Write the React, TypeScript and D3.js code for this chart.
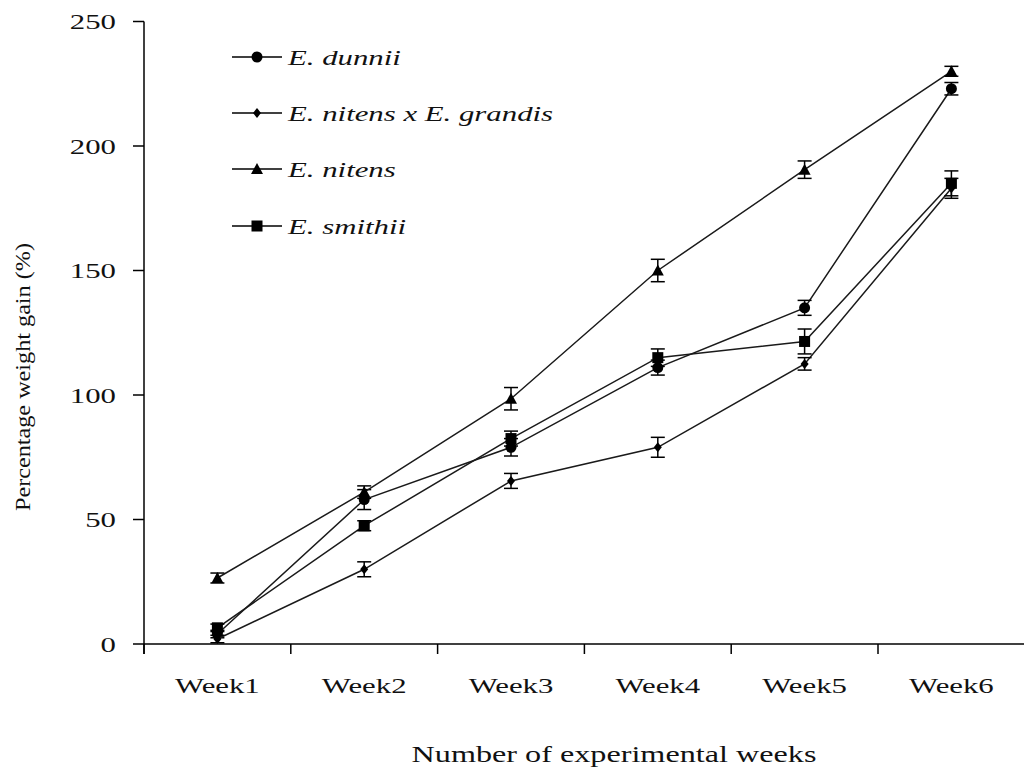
import React from "react";
import * as d3 from "d3";

// Weekly percentage weight gain for four Eucalyptus feeding treatments
const weeks = ["Week1", "Week2", "Week3", "Week4", "Week5", "Week6"];
const yTicks = [0, 50, 100, 150, 200, 250];

const dunnii = [4, 58, 79, 111, 135, 223];
const dunniiErr = [1.5, 4, 3.5, 3, 3, 2.5];
const hybrid = [2, 30, 65.5, 79, 112.5, 183];
const hybridErr = [1.5, 3, 3, 4, 2.5, 4];
const nitens = [26.5, 61, 98.5, 150, 190.5, 230];
const nitensErr = [2, 2.5, 4.5, 4.5, 3.5, 2];
const smithii = [6.5, 47.5, 82.5, 115, 121.5, 185];
const smithiiErr = [1.5, 2, 3, 3.5, 5, 5];

type Shape = "circle" | "diamond" | "triangle" | "square";
const seriesList: { name: string; values: number[]; errors: number[]; shape: Shape }[] = [
  { name: "E. dunnii", values: dunnii, errors: dunniiErr, shape: "circle" },
  { name: "E. nitens x E. grandis", values: hybrid, errors: hybridErr, shape: "diamond" },
  { name: "E. nitens", values: nitens, errors: nitensErr, shape: "triangle" },
  { name: "E. smithii", values: smithii, errors: smithiiErr, shape: "square" },
];

const W = 1024;
const H = 772;
const FONT = "'Liberation Serif', 'Times New Roman', serif";
const SX = 1.4; // wide type

const x = d3.scaleBand<string>().domain(weeks).range([144, 144 + 6 * 146.8]);
const y = d3.scaleLinear().domain([0, 250]).range([644, 21.5]);

function Marker({ shape, cx, cy }: { shape: Shape; cx: number; cy: number }) {
  if (shape === "circle") return <circle cx={cx} cy={cy} r={5.5} fill="#000" />;
  if (shape === "square")
    return <rect x={cx - 5.5} y={cy - 5.5} width={11} height={11} fill="#000" />;
  if (shape === "triangle")
    return <path d={`M${cx},${cy - 6} L${cx + 6},${cy + 5} L${cx - 6},${cy + 5} Z`} fill="#000" />;
  return (
    <path d={`M${cx},${cy - 5} L${cx + 4},${cy} L${cx},${cy + 5} L${cx - 4},${cy} Z`} fill="#000" />
  );
}

function WideText({
  x0,
  y0,
  anchor,
  italic,
  size,
  children,
}: {
  x0: number;
  y0: number;
  anchor: "start" | "middle" | "end";
  italic?: boolean;
  size: number;
  children: React.ReactNode;
}) {
  return (
    <g transform={`translate(${x0},${y0}) scale(${SX},1)`}>
      <text
        x={0}
        y={0}
        textAnchor={anchor}
        fontFamily={FONT}
        fontSize={size}
        fontStyle={italic ? "italic" : "normal"}
        fill="#111"
      >
        {children}
      </text>
    </g>
  );
}

export default function App() {
  const line = d3
    .line<number>()
    .x((_, i) => (x(weeks[i]) as number) + x.bandwidth() / 2)
    .y((d) => y(d));

  const [x0, x1] = x.range();
  const boundaries = d3.range(weeks.length + 1).map((i) => x0 + i * x.step());
  const legendRows = [57, 113, 169, 226];

  return (
    <svg
      width={W}
      height={H}
      style={{ position: "absolute", left: 0, top: 0, background: "#fff" }}
    >
      <rect width={W} height={H} fill="#fff" />

      {/* y axis */}
      <line x1={x0} x2={x0} y1={y(250)} y2={654} stroke="#000" strokeWidth={1.5} />
      {yTicks.map((t) => (
        <g key={t}>
          <line x1={133} x2={x0} y1={y(t)} y2={y(t)} stroke="#000" strokeWidth={1.5} />
          <WideText x0={116} y0={y(t) + 7.5} anchor="end" size={22}>
            {t}
          </WideText>
        </g>
      ))}

      {/* x axis */}
      <line x1={x0} x2={x1} y1={y(0)} y2={y(0)} stroke="#000" strokeWidth={1.5} />
      {boundaries.map((b, i) => (
        <line key={i} x1={b} x2={b} y1={y(0)} y2={y(0) + 10} stroke="#000" strokeWidth={1.5} />
      ))}
      {weeks.map((w) => (
        <WideText key={w} x0={(x(w) as number) + x.bandwidth() / 2} y0={693} anchor="middle" size={22}>
          {w}
        </WideText>
      ))}

      {/* axis titles */}
      <WideText x0={614} y0={762} anchor="middle" size={23}>
        Number of experimental weeks
      </WideText>
      <text
        transform={`translate(30,377) rotate(-90)`}
        textAnchor="middle"
        fontFamily={FONT}
        fontSize={22}
        textLength={268}
        lengthAdjust="spacingAndGlyphs"
        fill="#111"
      >
        Percentage weight gain (%)
      </text>

      {/* series */}
      {seriesList.map((s) => (
        <g key={s.name}>
          <path d={line(s.values) || ""} fill="none" stroke="#1a1a1a" strokeWidth={1.5} />
          {s.values.map((v, i) => {
            const cx = (x(weeks[i]) as number) + x.bandwidth() / 2;
            const e = s.errors[i];
            return (
              <g key={i} stroke="#000" strokeWidth={1.5}>
                <line x1={cx} x2={cx} y1={y(v + e)} y2={y(v - e)} />
                <line x1={cx - 7} x2={cx + 7} y1={y(v + e)} y2={y(v + e)} />
                <line x1={cx - 7} x2={cx + 7} y1={y(v - e)} y2={y(v - e)} />
              </g>
            );
          })}
          {s.values.map((v, i) => (
            <Marker
              key={i}
              shape={s.shape}
              cx={(x(weeks[i]) as number) + x.bandwidth() / 2}
              cy={y(v)}
            />
          ))}
        </g>
      ))}

      {/* legend */}
      {seriesList.map((s, i) => (
        <g key={s.name}>
          <line x1={232} x2={282} y1={legendRows[i]} y2={legendRows[i]} stroke="#000" strokeWidth={1.5} />
          <Marker shape={s.shape} cx={257} cy={legendRows[i]} />
          <WideText x0={288} y0={legendRows[i] + 8} anchor="start" italic size={22}>
            {s.name}
          </WideText>
        </g>
      ))}
    </svg>
  );
}
